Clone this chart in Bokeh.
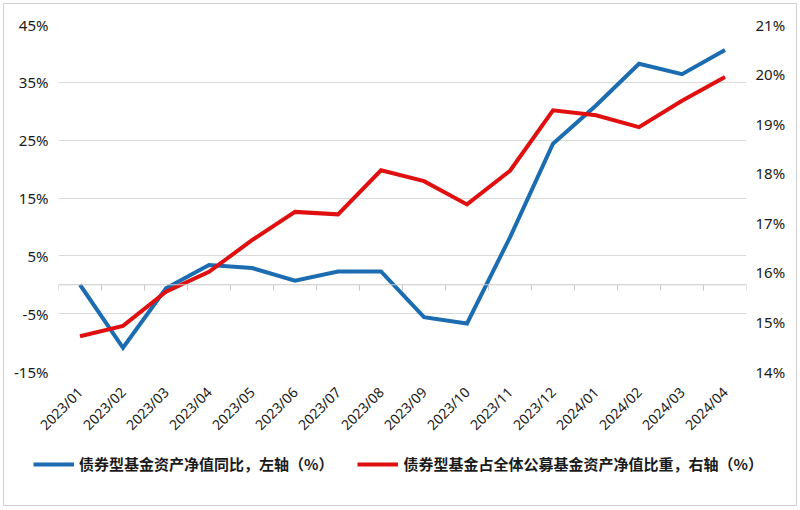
from bokeh.plotting import figure
from bokeh.layouts import column
from bokeh.models import (Range1d, LinearAxis, FixedTicker, PrintfTickFormatter,
                          Span, Legend, LegendItem, InlineStyleSheet)
from bokeh.embed import file_html
from bokeh.resources import INLINE
import math

months = ["2023/01", "2023/02", "2023/03", "2023/04", "2023/05", "2023/06",
          "2023/07", "2023/08", "2023/09", "2023/10", "2023/11", "2023/12",
          "2024/01", "2024/02", "2024/03", "2024/04"]
bond_yoy = [0.0, -10.9, -0.6, 3.4, 2.9, 0.7, 2.3, 2.3, -5.6, -6.7, 8.2, 24.4,
            31.0, 38.2, 36.4, 40.6]
bond_share = [14.71, 14.92, 15.61, 16.01, 16.65, 17.22, 17.17, 18.06, 17.84,
              17.37, 18.05, 19.27, 19.17, 18.93, 19.46, 19.94]
left_ticks = [-15, -5, 5, 15, 25, 35, 45]
right_ticks = [14, 15, 16, 17, 18, 19, 20, 21]
name_yoy = "债券型基金资产净值同比，左轴（%）"
name_share = "债券型基金占全体公募基金资产净值比重，右轴（%）"

BLUE = "#1b6cb0"
RED = "#e01010"
TXT = "#1a1a1a"
GRID = "#d9d9d9"

n = len(months)
xs = [i + 0.5 for i in range(n)]

p = figure(width=800, height=443, output_backend="svg", toolbar_location=None,
           x_range=Range1d(0, n), y_range=Range1d(left_ticks[0], left_ticks[-1]),
           min_border_left=58, min_border_right=54, min_border_top=24,
           min_border_bottom=70)
p.frame_align = False
p.outline_line_color = None
p.background_fill_color = "white"
p.border_fill_color = "white"
p.extra_y_ranges = {"right": Range1d(right_ticks[0], right_ticks[-1])}

# grid
p.xgrid.visible = False
p.ygrid.ticker = FixedTicker(ticks=left_ticks)
p.ygrid.grid_line_color = GRID
p.ygrid.grid_line_width = 1

# x axis (bottom, labels only)
xa = p.xaxis[0]
xa.ticker = FixedTicker(ticks=xs)
xa.major_label_overrides = {x: m for x, m in zip(xs, months)}
xa.major_label_orientation = math.pi / 4
xa.axis_line_color = None
xa.major_tick_line_color = None
xa.major_tick_out = 0
xa.major_tick_in = 0
xa.minor_tick_line_color = None
xa.major_label_standoff = 18
xa.major_label_text_font = "Noto Sans"
xa.major_label_text_font_size = "14px"
xa.major_label_text_color = TXT

# left axis
ya = p.yaxis[0]
ya.ticker = FixedTicker(ticks=left_ticks)
ya.formatter = PrintfTickFormatter(format="%d%%")
ya.axis_line_color = None
ya.major_tick_line_color = None
ya.major_tick_out = 0
ya.major_tick_in = 0
ya.minor_tick_line_color = None
ya.major_label_standoff = 10
ya.major_label_text_font = "Noto Sans"
ya.major_label_text_font_size = "15px"
ya.major_label_text_color = TXT

# right axis
ra = LinearAxis(y_range_name="right", ticker=FixedTicker(ticks=right_ticks),
                formatter=PrintfTickFormatter(format="%d%%"))
ra.axis_line_color = None
ra.major_tick_line_color = None
ra.major_tick_out = 0
ra.major_tick_in = 0
ra.minor_tick_line_color = None
ra.major_label_standoff = 9
ra.major_label_text_font = "Noto Sans"
ra.major_label_text_font_size = "15px"
ra.major_label_text_color = TXT
p.add_layout(ra, "right")

# zero category line with boundary ticks
p.add_layout(Span(location=0, dimension="width", line_color="#c8c8c8", line_width=1))
bounds = list(range(n + 1))
p.segment(x0=bounds, y0=[0] * len(bounds), x1=bounds, y1=[-1.0] * len(bounds),
          line_color="#c8c8c8", line_width=1)

r1 = p.line(xs, bond_yoy, line_color=BLUE, line_width=4, line_join="miter")
r2 = p.line(xs, bond_share, y_range_name="right", line_color=RED, line_width=4,
            line_join="miter")

# legend strip (proxy renderers lie outside this strip's view)
lg = figure(width=800, height=67, output_backend="svg", toolbar_location=None,
            x_axis_location=None, y_axis_location=None,
            x_range=Range1d(100, 101), y_range=Range1d(100, 101),
            min_border_left=0, min_border_right=0, min_border_top=0,
            min_border_bottom=0)
lg.frame_align = False
lg.outline_line_color = None
lg.grid.visible = False
lg.background_fill_color = "white"
lg.border_fill_color = "white"
d1 = lg.line(xs, bond_yoy, line_color=BLUE, line_width=4)
d2 = lg.line(xs, bond_share, line_color=RED, line_width=4)

legend = Legend(items=[LegendItem(label=name_yoy, renderers=[d1]),
                       LegendItem(label=name_share, renderers=[d2])],
                orientation="horizontal", location=(33, 36))
legend.border_line_color = None
legend.background_fill_alpha = 0
legend.margin = 0
legend.padding = 0
legend.spacing = 24
legend.glyph_width = 41
legend.glyph_height = 20
legend.label_height = 20
legend.label_standoff = 5
legend.label_text_font = "Noto Sans CJK SC"
legend.label_text_font_size = "15px"
legend.label_text_font_style = "bold"
legend.label_text_color = TXT
lg.add_layout(legend, "center")

frame_css = InlineStyleSheet(css="""
:host { position: relative; }
:host::after { content: ""; position: absolute; left: 3px; top: 3px;
  right: 3px; bottom: 4px; border: 1px solid #d0d0d0;
  pointer-events: none; z-index: 100; }
""")
layout = column(p, lg, spacing=0, stylesheets=[frame_css])

open("out.html", "w").write(file_html(layout, INLINE))
